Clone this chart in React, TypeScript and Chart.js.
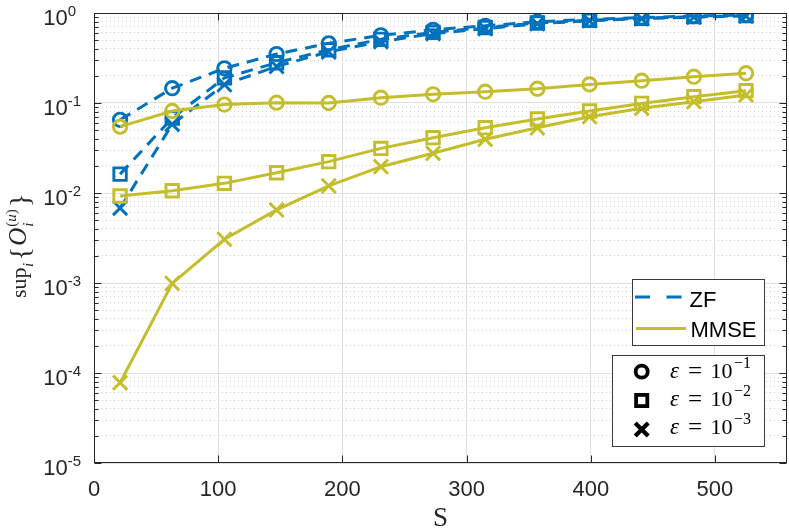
import React, { useEffect, useRef } from 'react';
import { Chart, registerables } from 'chart.js';

Chart.register(...registerables);

// ---------- data ----------
const sValues = [21, 63, 105, 147, 189, 231, 273, 315, 357, 399, 441, 483, 525];

const zfEps1 = [0.065, 0.146, 0.243, 0.35, 0.46, 0.565, 0.65, 0.72, 0.8, 0.85, 0.89, 0.925, 0.95];
const zfEps2 = [0.0162, 0.068, 0.19, 0.28, 0.39, 0.51, 0.61, 0.69, 0.775, 0.83, 0.875, 0.91, 0.935];
const zfEps3 = [0.0068, 0.058, 0.16, 0.255, 0.37, 0.48, 0.59, 0.67, 0.76, 0.82, 0.865, 0.9, 0.925];

const mmseEps1 = [0.0546, 0.0815, 0.096, 0.1008, 0.1, 0.1146, 0.125, 0.1336, 0.144, 0.161, 0.177, 0.196, 0.214];
const mmseEps2 = [0.00927, 0.0106, 0.0128, 0.0168, 0.0223, 0.0313, 0.0412, 0.0532, 0.0664, 0.0815, 0.099, 0.1175, 0.137];
const mmseEps3 = [0.000078, 0.00099, 0.00306, 0.00648, 0.012, 0.0196, 0.0276, 0.0395, 0.053, 0.0705, 0.0873, 0.1035, 0.1227];

const xTickValues = [0, 100, 200, 300, 400, 500];
const yDecadeExponents = [-5, -4, -3, -2, -1, 0];
const lineLegendLabels = ['ZF', 'MMSE'];
const markerLegendExponents = ['\u22121', '\u22122', '\u22123'];
const xAxisTitle = 'S';

// ---------- styles ----------
const BLUE = '#0072BD';
const YELLOW = '#C4BE2C';
const AXIS = '#262626';
const SANS = '"Liberation Sans", Arial, Helvetica, sans-serif';
const SERIF = '"Liberation Serif", "Times New Roman", serif';

const isDecade = (v: number) => Math.abs(Math.log10(v) - Math.round(Math.log10(v))) < 1e-9;

const yTickValues: number[] = (() => {
  const out: number[] = [];
  for (const e of yDecadeExponents) {
    if (e === yDecadeExponents[yDecadeExponents.length - 1]) {
      out.push(Math.pow(10, e));
    } else {
      for (let m = 1; m <= 9; m++) out.push(parseFloat((m * Math.pow(10, e)).toPrecision(6)));
    }
  }
  return out;
})();

const toPoints = (ys: number[]) => sValues.map((x, i) => ({ x, y: ys[i] }));

type Style = { color: string; dash: number[]; pointStyle: string; radius: number };
const mk = (label: string, ys: number[], st: Style) => ({
  label,
  data: toPoints(ys),
  borderColor: st.color,
  borderWidth: 3,
  borderDash: st.dash,
  pointStyle: st.pointStyle,
  pointRadius: st.radius,
  pointBorderWidth: 2.9,
  pointBorderColor: st.color,
  pointBackgroundColor: 'rgba(0,0,0,0)',
  fill: false,
  tension: 0,
});

const DASH = [12, 8];

function drawYLabel(ctx: CanvasRenderingContext2D) {
  ctx.save();
  ctx.translate(26, 0);
  ctx.rotate(-Math.PI / 2);
  ctx.fillStyle = AXIS;
  ctx.textBaseline = 'alphabetic';
  ctx.textAlign = 'left';
  const put = (t: string, f: string, rx: number, dy: number) => {
    ctx.font = f;
    ctx.fillText(t, rx, dy);
    return ctx.measureText(t).width;
  };
  let x = -298;
  x += put('sup', `22px ${SERIF}`, x, 0);
  x += put('i', `italic 15px ${SERIF}`, x + 0.5, 7) + 3;
  x += put('{', `28px ${SERIF}`, x, 3) + 1;
  x += put('O', `italic 25px ${SERIF}`, x, 0) + 1;
  const sx = x;
  let w1 = 0;
  w1 += put('(', `15px ${SERIF}`, sx, -10);
  w1 += put('u', `italic 15px ${SERIF}`, sx + w1, -10);
  w1 += put(')', `15px ${SERIF}`, sx + w1, -10);
  put('i', `italic 15px ${SERIF}`, sx, 7);
  x = sx + w1 + 2;
  put('}', `28px ${SERIF}`, x, 3);
  ctx.restore();
}

const overlayPlugin = {
  id: 'overlay',
  afterDraw(chart: any) {
    const ctx: CanvasRenderingContext2D = chart.ctx;
    const { left, right, top, bottom } = chart.chartArea;
    const xs = chart.scales.x;
    const ys = chart.scales.y;
    ctx.save();

    // axes box
    ctx.strokeStyle = AXIS;
    ctx.lineWidth = 1;
    ctx.setLineDash([]);
    const L = Math.round(left) + 0.5, R = Math.round(right) - 0.5;
    const T = Math.round(top) + 0.5, B = Math.round(bottom) - 0.5;
    ctx.strokeRect(L, T, R - L, B - T);

    // inward ticks
    ctx.beginPath();
    for (const v of xTickValues) {
      const px = Math.round(xs.getPixelForValue(v)) + 0.5;
      ctx.moveTo(px, B); ctx.lineTo(px, B - 7);
      ctx.moveTo(px, T); ctx.lineTo(px, T + 7);
    }
    for (const v of yTickValues) {
      const py = Math.round(ys.getPixelForValue(v)) + 0.5;
      const len = isDecade(v) ? 7 : 4;
      ctx.moveTo(L, py); ctx.lineTo(L + len, py);
      ctx.moveTo(R, py); ctx.lineTo(R - len, py);
    }
    ctx.stroke();

    // x tick labels
    ctx.fillStyle = AXIS;
    ctx.font = `22px ${SANS}`;
    ctx.textAlign = 'center';
    ctx.textBaseline = 'alphabetic';
    for (const v of xTickValues) {
      ctx.fillText(String(v), xs.getPixelForValue(v), bottom + 33);
    }

    // y tick labels
    ctx.textAlign = 'left';
    for (const e of yDecadeExponents) {
      const py = ys.getPixelForValue(Math.pow(10, e));
      ctx.font = `22px ${SANS}`;
      ctx.fillText('10', 43.3, py + 11.7);
      const w = ctx.measureText('10').width;
      ctx.font = `15px ${SANS}`;
      ctx.fillText(e === 0 ? '0' : '-' + String(-e), 43.3 + w, py + 2.7);
    }

    // axis titles
    ctx.font = `27px ${SERIF}`;
    ctx.textAlign = 'center';
    ctx.fillText(xAxisTitle, (left + right) / 2, 525.5);
    drawYLabel(ctx);

    // legend 1 (lines)
    ctx.fillStyle = '#ffffff';
    ctx.fillRect(632, 279, 132, 66);
    ctx.strokeStyle = '#3a3a3a';
    ctx.lineWidth = 1;
    ctx.strokeRect(632.5, 279.5, 132, 66);
    ctx.lineWidth = 3;
    ctx.strokeStyle = BLUE;
    ctx.setLineDash([15, 16.5]);
    ctx.beginPath(); ctx.moveTo(635, 297); ctx.lineTo(682, 297); ctx.stroke();
    ctx.setLineDash([]);
    ctx.strokeStyle = YELLOW;
    ctx.beginPath(); ctx.moveTo(636, 328.5); ctx.lineTo(686, 328.5); ctx.stroke();
    ctx.fillStyle = '#000000';
    ctx.font = `22px ${SANS}`;
    ctx.textAlign = 'left';
    ctx.fillText(lineLegendLabels[0], 689.5, 306.7);
    ctx.fillText(lineLegendLabels[1], 690.5, 336.7);

    // legend 2 (markers)
    ctx.fillStyle = '#ffffff';
    ctx.fillRect(612, 355, 152, 91);
    ctx.strokeStyle = '#3a3a3a';
    ctx.lineWidth = 1;
    ctx.strokeRect(612.5, 355.5, 152, 91);
    const mx = 641.7;
    const rowY = [371.7, 400.5, 429.5];
    const baseY = [378.3, 406, 434];
    ctx.strokeStyle = '#000000';
    ctx.lineWidth = 3.8;
    ctx.beginPath(); ctx.arc(mx, rowY[0], 6, 0, Math.PI * 2); ctx.stroke();
    ctx.strokeRect(mx - 5.6, rowY[1] - 5.6, 11.2, 11.2);
    ctx.lineWidth = 4.2;
    ctx.beginPath();
    ctx.moveTo(mx - 6.5, rowY[2] - 6.5); ctx.lineTo(mx + 6.5, rowY[2] + 6.5);
    ctx.moveTo(mx + 6.5, rowY[2] - 6.5); ctx.lineTo(mx - 6.5, rowY[2] + 6.5);
    ctx.stroke();
    ctx.fillStyle = '#000000';
    for (let i = 0; i < 3; i++) {
      ctx.font = `italic 23px ${SERIF}`;
      ctx.fillText('\u03b5', 670, baseY[i]);
      ctx.font = `25px ${SERIF}`;
      ctx.fillText('=', 688, baseY[i] + 0.5);
      ctx.font = `22px ${SERIF}`;
      ctx.fillText('10', 710.5, baseY[i]);
      ctx.font = `16px ${SERIF}`;
      ctx.fillText(markerLegendExponents[i], 734, baseY[i] - 10);
    }

    ctx.restore();
  },
};

export default function App() {
  const ref = useRef<HTMLCanvasElement | null>(null);
  useEffect(() => {
    if (!ref.current) return;
    const chart = new Chart(ref.current, {
      type: 'line',
      data: {
        datasets: [
          mk('MMSE eps1', mmseEps1, { color: YELLOW, dash: [], pointStyle: 'circle', radius: 6.7 }),
          mk('MMSE eps2', mmseEps2, { color: YELLOW, dash: [], pointStyle: 'rect', radius: 8.8 }),
          mk('MMSE eps3', mmseEps3, { color: YELLOW, dash: [], pointStyle: 'crossRot', radius: 10 }),
          mk('ZF eps1', zfEps1, { color: BLUE, dash: DASH, pointStyle: 'circle', radius: 6.7 }),
          mk('ZF eps2', zfEps2, { color: BLUE, dash: DASH, pointStyle: 'rect', radius: 8.8 }),
          mk('ZF eps3', zfEps3, { color: BLUE, dash: DASH, pointStyle: 'crossRot', radius: 10 }),
        ] as any,
      },
      options: {
        animation: false,
        responsive: false,
        events: [],
        layout: { autoPadding: false, padding: { left: 94, top: 13, right: 2, bottom: 65 } },
        plugins: { legend: { display: false }, tooltip: { enabled: false } },
        scales: {
          x: {
            type: 'linear',
            min: 0,
            max: 558,
            afterBuildTicks: (s: any) => { s.ticks = xTickValues.map((v) => ({ value: v })); },
            afterFit: (s: any) => { s.height = 0; },
            ticks: { display: false },
            grid: { color: '#e0e0e0', lineWidth: 1, drawTicks: false },
            border: { display: false },
          },
          y: {
            type: 'logarithmic',
            min: 1e-5,
            max: 1,
            afterBuildTicks: (s: any) => { s.ticks = yTickValues.map((v) => ({ value: v, major: isDecade(v) })); },
            afterFit: (s: any) => { s.width = 0; },
            ticks: { display: false },
            grid: {
              color: (c: any) => (c.tick && isDecade(c.tick.value) ? '#e0e0e0' : '#d0d0d0'),
              lineWidth: 1,
              drawTicks: false,
            },
            border: {
              display: false,
              dash: (c: any) => (c.tick && isDecade(c.tick.value) ? [] : [1, 3]),
            },
          },
        },
      } as any,
      plugins: [overlayPlugin as any],
    });
    return () => chart.destroy();
  }, []);
  return (
    <div style={{ position: 'absolute', left: 0, top: 0, width: 789, height: 528, background: '#fff' }}>
      <canvas ref={ref} width={789} height={528} style={{ display: 'block' }} />
    </div>
  );
}
